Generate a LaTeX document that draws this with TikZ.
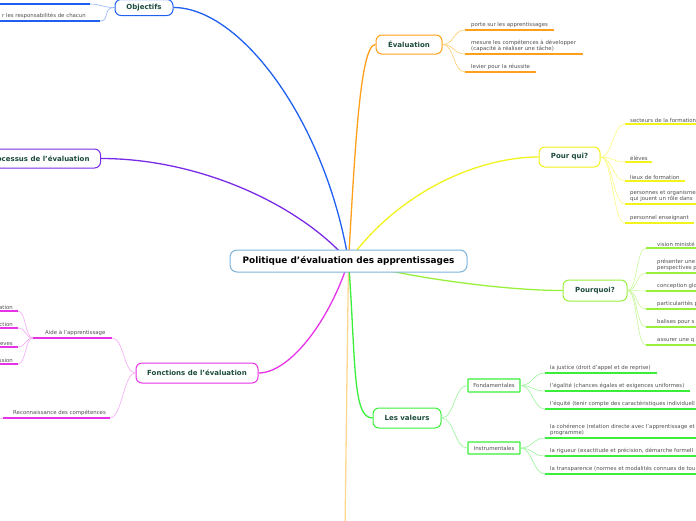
\documentclass[tikz,border=0pt]{standalone}
\usepackage{fontspec}
\setmainfont{DejaVu Sans}
\definecolor{cblue}{HTML}{7BB3D9}
\definecolor{objblue}{HTML}{2060F0}
\definecolor{objlight}{HTML}{8FB0FA}
\definecolor{procpurple}{HTML}{7A2BE8}
\definecolor{foncmag}{HTML}{E832E8}
\definecolor{fonclight}{HTML}{F5A8F5}
\definecolor{evalor}{HTML}{FF9F1A}
\definecolor{evallight}{HTML}{FFCC70}
\definecolor{pqyellow}{HTML}{F2F21C}
\definecolor{pqlight}{HTML}{FAFA80}
\definecolor{pqlime}{HTML}{99F03A}
\definecolor{pqllight}{HTML}{C8F79A}
\definecolor{valgreen}{HTML}{3AEE3A}
\definecolor{vallight}{HTML}{9AF59A}
\definecolor{bottomor}{HTML}{FFD890}
\definecolor{nodetext}{HTML}{1C4B3C}
\definecolor{leaftext}{HTML}{505050}
\pgfdeclarelayer{bg}
\pgfsetlayers{bg,main}
\begin{document}
\begin{tikzpicture}[x=1pt,y=-1pt,
  mainbox/.style={draw, rounded corners=6pt, line width=1pt, fill=white, font=\fontsize{7}{8}\selectfont\bfseries, text=nodetext, inner sep=0pt},
  subbox/.style={draw, line width=1.2pt, fill=white, font=\fontsize{5.4}{6}\selectfont, text=leaftext, inner sep=0pt, rounded corners=0.5pt},
  leaf/.style={anchor=south west, font=\fontsize{5.4}{6.6}\selectfont, text=leaftext, inner sep=0pt, align=left},
  leafr/.style={leaf, anchor=south east, align=right},
  branch/.style={line width=1.3pt},
  twig/.style={line width=0.6pt},
  uline/.style={line width=1.6pt}]
\useasboundingbox (0,0) rectangle (696,520);

% ---------- main nodes ----------
\node[draw=cblue, rounded corners=7pt, line width=1pt, fill=white, minimum width=237pt, minimum height=22pt, inner sep=0pt,
      font=\fontsize{8.9}{10}\selectfont\bfseries] (c) at (348.5,261) {Politique d'évaluation des apprentissages};
\node[mainbox, draw=objblue, minimum width=58pt, minimum height=16pt] (obj) at (144,7.5) {Objectifs};
\node[mainbox, draw=procpurple, minimum height=19pt, inner xsep=11pt, anchor=east] (proc) at (101,158.5) {Processus de l'évaluation};
\node[mainbox, draw=foncmag, minimum width=122pt, minimum height=20pt] (fonc) at (197,373) {Fonctions de l'évaluation};
\node[mainbox, draw=evalor, minimum width=66pt, minimum height=19pt] (eval) at (409,44.5) {Évaluation};
\node[mainbox, draw=pqyellow, minimum width=61pt, minimum height=20pt] (pqui) at (569.5,157) {Pour qui?};
\node[mainbox, draw=pqlime, minimum width=64pt, minimum height=21pt] (pquoi) at (595,290.5) {Pourquoi?};
\node[mainbox, draw=valgreen, minimum width=68pt, minimum height=20pt] (val) at (407,418) {Les valeurs};
\node[subbox, draw=valgreen, minimum width=52pt, minimum height=13pt] (fond) at (494,385.5) {Fondamentales};
\node[subbox, draw=valgreen, minimum width=52pt, minimum height=12pt] (instr) at (494,448) {Instrumentales};
\coordinate (down) at (345,530);

% ---------- leaf anchors and labels ----------
% Objectifs
\coordinate (o1) at (90,4);   \coordinate (o1e) at (-5,4);
\coordinate (o2) at (100,21); \coordinate (o2e) at (-5,21);
\node[leafr] (o2t) at (86,19.3) {r les responsabilités de chacun};
% Fonctions
\coordinate (aide) at (112,338); \coordinate (aidee) at (33,338);
\node[leaf] (aidet) at (45,336.3) {Aide à l'apprentissage};
\coordinate (reco) at (110,418); \coordinate (recoe) at (3,418);
\node[leaf] (recot) at (13,416.3) {Reconnaissance des compétences};
\coordinate (recox) at (-10,428);
\coordinate (a1) at (18,311); \coordinate (a1e) at (-5,311);
\coordinate (a2) at (18,328); \coordinate (a2e) at (-5,328);
\coordinate (a3) at (18,347); \coordinate (a3e) at (-5,347);
\coordinate (a4) at (18,364); \coordinate (a4e) at (-5,364);
\node[leafr] (a1t) at (13,309.3) {ation};
\node[leafr] (a2t) at (13,326.3) {ction};
\node[leafr] (a3t) at (13,345.3) {eves};
\node[leafr] (a4t) at (13,362.3) {ssion};
% Evaluation
\coordinate (e1) at (465,30); \coordinate (e1e) at (554,30);
\coordinate (e2) at (465,54); \coordinate (e2e) at (583,54);
\coordinate (e3) at (465,72); \coordinate (e3e) at (536,72);
\node[leaf] (e1t) at (471,28.3) {porte sur les apprentissages};
\node[leaf] (e2t) at (471,52.3) {mesure les compétences à développer\\(capacité à réaliser une tâche)};
\node[leaf] (e3t) at (471,70.3) {levier pour la réussite};
% Pour qui
\coordinate (p1) at (625,124); \coordinate (p1e) at (700,124);
\coordinate (p2) at (625,162); \coordinate (p2e) at (652,162);
\coordinate (p3) at (625,181); \coordinate (p3e) at (685,181);
\coordinate (p4) at (625,204); \coordinate (p4e) at (700,204);
\coordinate (p5) at (625,223); \coordinate (p5e) at (694,223);
\node[leaf] (p1t) at (630,122.3) {secteurs de la formation};
\node[leaf] (p2t) at (630,160.3) {élèves};
\node[leaf] (p3t) at (630,179.3) {lieux de formation};
\node[leaf] (p4t) at (630,202.3) {personnes et organismes\\qui jouent un rôle dans};
\node[leaf] (p5t) at (630,221.3) {personnel enseignant};
% Pourquoi
\coordinate (q1) at (646,248); \coordinate (q1e) at (700,248);
\coordinate (q2) at (646,273); \coordinate (q2e) at (700,273);
\coordinate (q3) at (646,291); \coordinate (q3e) at (700,291);
\coordinate (q4) at (646,309); \coordinate (q4e) at (700,309);
\coordinate (q5) at (646,327); \coordinate (q5e) at (700,327);
\coordinate (q6) at (646,345); \coordinate (q6e) at (700,345);
\node[leaf] (q1t) at (657,246.3) {vision ministé};
\node[leaf] (q2t) at (657,271.3) {présenter une\\perspectives p};
\node[leaf] (q3t) at (657,289.3) {conception glo};
\node[leaf] (q4t) at (657,307.3) {particularités p};
\node[leaf] (q5t) at (657,325.3) {balises pour s};
\node[leaf] (q6t) at (657,343.3) {assurer une q};
% Valeurs
\coordinate (f1) at (545,373); \coordinate (f1e) at (657,373);
\coordinate (f2) at (545,391); \coordinate (f2e) at (690,391);
\coordinate (f3) at (545,409); \coordinate (f3e) at (700,409);
\coordinate (i1) at (545,438); \coordinate (i1e) at (700,438);
\coordinate (i2) at (545,456); \coordinate (i2e) at (700,456);
\coordinate (i3) at (545,474); \coordinate (i3e) at (700,474);
\node[leaf] (f1t) at (550,371.3) {la justice (droit d'appel et de reprise)};
\node[leaf] (f2t) at (550,389.3) {l'égalité (chances égales et exigences uniformes)};
\node[leaf] (f3t) at (550,407.3) {l'équité (tenir compte des caractéristiques individuell};
\node[leaf] (i1t) at (550,436.3) {la cohérence (relation directe avec l'apprentissage et\\programme)};
\node[leaf] (i2t) at (550,454.3) {la rigueur (exactitude et précision, démarche formell};
\node[leaf] (i3t) at (550,472.3) {la transparence (normes et modalités connues de tou};

% ---------- connectors ----------
\begin{pgfonlayer}{bg}
\draw[branch, bottomor] (c.center) -- (down);
\draw[branch, objblue] (c.center) .. controls (325,120) and (240,7.5) .. (obj.east);
\draw[branch, procpurple] (c.center) .. controls (300,205) and (200,158.5) .. (proc.east);
\draw[branch, evalor] (c.center) .. controls (355,150) and (360,44.5) .. (eval.west);
\draw[branch, pqyellow] (c.center) .. controls (400,190) and (480,157) .. (pqui.west);
\draw[branch, pqlime] (c.center) .. controls (400,276) and (500,290.5) .. (pquoi.west);
\draw[branch, foncmag] (c.center) .. controls (330,320) and (290,373) .. (fonc.east);
\draw[branch, valgreen] (c.center) .. controls (356,360) and (352,418) .. (val.west);
\end{pgfonlayer}

% Objectifs leaves
\draw[twig, objlight] (obj.west) .. controls +(-12,0) and +(10,0) .. (o1);
\draw[twig, objlight] (obj.west) .. controls +(-12,0) and +(10,0) .. (o2);
\draw[uline, objblue] (o1) -- (o1e);
\draw[uline, objblue] (o2) -- (o2e);
% Fonctions leaves
\draw[twig, fonclight] (fonc.west) .. controls +(-12,0) and +(12,0) .. (aide);
\draw[twig, fonclight] (fonc.west) .. controls +(-12,0) and +(12,0) .. (reco);
\draw[uline, foncmag] (aide) -- (aidee);
\draw[uline, foncmag] (reco) -- (recoe);
\draw[twig, fonclight] (recoe) .. controls +(-5,0) and +(5,-5) .. (recox);
\foreach \a in {a1,a2,a3,a4}{
  \draw[twig, fonclight] (aidee) .. controls +(-8,0) and +(8,0) .. (\a);
  \draw[uline, foncmag] (\a) -- (\a e);
}
% Evaluation leaves
\foreach \a in {e1,e2,e3}{
  \draw[twig, evallight] (eval.east) .. controls +(12,0) and +(-12,0) .. (\a);
  \draw[uline, evalor] (\a) -- (\a e);
}
% Pour qui leaves
\foreach \a in {p1,p2,p3,p4,p5}{
  \draw[twig, pqlight] (pqui.east) .. controls +(12,0) and +(-12,0) .. (\a);
  \draw[uline, pqyellow] (\a) -- (\a e);
}
% Pourquoi leaves
\foreach \a in {q1,q2,q3,q4,q5,q6}{
  \draw[twig, pqllight] (pquoi.east) .. controls +(10,0) and +(-10,0) .. (\a);
  \draw[uline, pqlime] (\a) -- (\a e);
}
% Valeurs
\draw[twig, vallight] (val.east) .. controls +(13,0) and +(-13,0) .. (fond.west);
\draw[twig, vallight] (val.east) .. controls +(13,0) and +(-13,0) .. (instr.west);
\foreach \a in {f1,f2,f3}{
  \draw[twig, vallight] (fond.east) .. controls +(12,0) and +(-12,0) .. (\a);
  \draw[uline, valgreen] (\a) -- (\a e);
}
\foreach \a in {i1,i2,i3}{
  \draw[twig, vallight] (instr.east) .. controls +(12,0) and +(-12,0) .. (\a);
  \draw[uline, valgreen] (\a) -- (\a e);
}
\end{tikzpicture}
\end{document}
